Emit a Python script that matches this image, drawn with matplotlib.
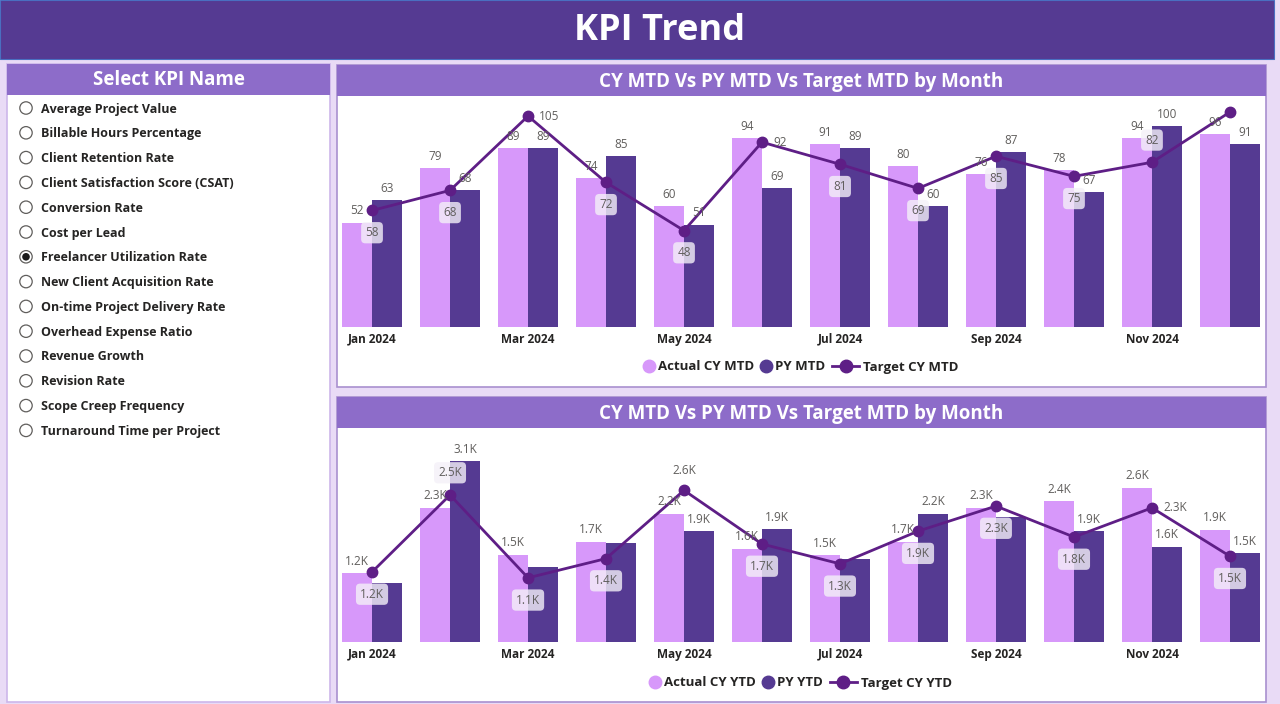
import numpy as np
import matplotlib
matplotlib.use('Agg')
import matplotlib.pyplot as plt
from matplotlib.patches import Rectangle, Circle
from matplotlib.lines import Line2D
from matplotlib.legend_handler import HandlerLine2D

plt.rcParams['font.family'] = ['Open Sans', 'DejaVu Sans']

W, H = 1280, 704

# ---------------- data ----------------
MONTHS = ['Jan 2024', 'Feb 2024', 'Mar 2024', 'Apr 2024', 'May 2024', 'Jun 2024',
          'Jul 2024', 'Aug 2024', 'Sep 2024', 'Oct 2024', 'Nov 2024', 'Dec 2024']

MTD_ACTUAL = [52, 79, 89, 74, 60, 94, 91, 80, 76, 78, 94, 96]
MTD_PY = [63, 68, 89, 85, 51, 69, 89, 60, 87, 67, 100, 91]
MTD_TARGET = [58, 68, 105, 72, 48, 92, 81, 69, 85, 75, 82, 107]

YTD_ACTUAL = [1180, 2300, 1500, 1720, 2200, 1600, 1490, 1720, 2300, 2410, 2640, 1920]
YTD_PY = [1010, 3100, 1280, 1700, 1900, 1930, 1420, 2200, 2140, 1900, 1630, 1520]
YTD_TARGET = [1200, 2520, 1100, 1430, 2600, 1680, 1340, 1900, 2330, 1800, 2300, 1470]

# where the report puts each target label (None = not shown)
MTD_TARGET_POS = ['below', 'below', 'right', 'below', 'below', 'right',
                  'below', 'below', 'below', 'below', 'above_box', None]
YTD_TARGET_POS = ['below', 'above_box', 'below', 'below', 'above', 'below',
                  'below', 'below', 'below', 'below', 'right', 'below']
# PY labels the report hides
YTD_HIDE_PY = [0, 2, 3, 6, 8]

KPI_NAMES = ['Average Project Value', 'Billable Hours Percentage', 'Client Retention Rate',
             'Client Satisfaction Score (CSAT)', 'Conversion Rate', 'Cost per Lead',
             'Freelancer Utilization Rate', 'New Client Acquisition Rate',
             'On-time Project Delivery Rate', 'Overhead Expense Ratio', 'Revenue Growth',
             'Revision Rate', 'Scope Creep Frequency', 'Turnaround Time per Project']
SELECTED_KPI = 'Freelancer Utilization Rate'

# colours
BG = '#E9DBF6'
TITLE_BG = '#553A92'
HEADER_BG = '#8D6CC9'
LIGHT = '#D798FA'
DARK = '#553A92'
LINE = '#5E1E86'
LABEL_GREY = '#605E5C'


class WideHandler(HandlerLine2D):
    """line+marker legend entry that is wider than the plain circle entries"""
    def __init__(self, factor, **kw):
        super().__init__(**kw)
        self.factor = factor

    def legend_artist(self, legend, orig_handle, fontsize, handlebox):
        handlebox.width *= self.factor
        return super().legend_artist(legend, orig_handle, fontsize, handlebox)


def px_axes(fig, x, y, w, h):
    return fig.add_axes([x / W, 1 - (y + h) / H, w / W, h / H])


def fmt_int(v):
    return f'{v:.0f}'


def fmt_k(v):
    return f'{v / 1000:.1f}K'


def draw_chart(ax, actual, prior, target, fmt, ymax, names, legend_y, target_pos, hide_py=()):
    x = np.arange(len(MONTHS))
    w = 0.385
    ax.bar(x - w / 2, actual, w, color=LIGHT, zorder=2)
    ax.bar(x + w / 2, prior, w, color=DARK, zorder=2)
    ax.plot(x, target, color=LINE, lw=2, marker='o', ms=7.5, zorder=4)

    box = dict(boxstyle='round,pad=0.35', fc='#F4F0F8', ec='none', alpha=0.8)
    lbl = dict(textcoords='offset points', fontsize=8.5, color=LABEL_GREY)
    for i in x:
        ax.annotate(fmt(actual[i]), (i - w / 2, actual[i]), xytext=(0, 4),
                    ha='center', va='bottom', zorder=5, **lbl)
        if i not in hide_py:
            ax.annotate(fmt(prior[i]), (i + w / 2, prior[i]), xytext=(0, 4),
                        ha='center', va='bottom', zorder=5, **lbl)
        pos = target_pos[i]
        if pos == 'right':
            ax.annotate(fmt(target[i]), (i, target[i]), xytext=(8, 0),
                        ha='left', va='center', zorder=6, **lbl)
        elif pos == 'above':
            ax.annotate(fmt(target[i]), (i, target[i]), xytext=(0, 14),
                        ha='center', va='center', zorder=6, **lbl)
        elif pos == 'above_box':
            ax.annotate(fmt(target[i]), (i, target[i]), xytext=(0, 16),
                        ha='center', va='center', zorder=6, bbox=box, **lbl)
        elif pos == 'below':
            ax.annotate(fmt(target[i]), (i, target[i]), xytext=(0, -16),
                        ha='center', va='center', zorder=6, bbox=box, **lbl)

    ax.set_xlim(-w, len(x) - 1 + w)
    ax.set_ylim(0, ymax)
    ax.set_xticks(x[::2])
    ax.set_xticklabels(MONTHS[::2], fontsize=8.5, fontweight='bold', color='#252423')
    ax.tick_params(axis='x', length=0, pad=4)
    ax.set_yticks([])
    for s in ax.spines.values():
        s.set_visible(False)
    ax.patch.set_alpha(0)

    h_cy = Line2D([], [], marker='o', color=LIGHT, ls='none', ms=9)
    h_py = Line2D([], [], marker='o', color=DARK, ls='none', ms=9)
    h_tg = Line2D([], [], marker='o', color=LINE, lw=2, ms=9)
    leg = ax.legend([h_cy, h_py, h_tg], names, loc='center', bbox_to_anchor=(0.5, legend_y), ncol=3,
                    frameon=False, handlelength=0.8, handletextpad=0.3, columnspacing=0.5,
                    handler_map={h_tg: WideHandler(2.6)},
                    prop={'weight': 'bold', 'size': 9.5})
    for t in leg.get_texts():
        t.set_color('#252423')


fig = plt.figure(figsize=(W / 100, H / 100), dpi=100, facecolor=BG)

bg = fig.add_axes([0, 0, 1, 1])
bg.set_xlim(0, W)
bg.set_ylim(H, 0)
bg.axis('off')

# title bar
bg.add_patch(Rectangle((0, 0), 1274, 59, fc=TITLE_BG, ec='#4A6FC0', lw=0.8))
bg.text(660, 31, 'KPI Trend', color='white', fontsize=26, fontweight='bold', ha='center', va='center')

# slicer panel
bg.add_patch(Rectangle((7, 64), 323, 638, fc='white', ec='#CDB6EA', lw=1.2))
bg.add_patch(Rectangle((7, 64), 323, 31, fc=HEADER_BG, ec='none'))
bg.text(169, 80, 'Select KPI Name', color='white', fontsize=13.5, fontweight='bold', ha='center', va='center')
for k, name in enumerate(KPI_NAMES):
    yy = 108 + k * 24.8
    bg.add_patch(Circle((26, yy), 6.2, fc='white', ec='#605E5C', lw=0.9))
    if name == SELECTED_KPI:
        bg.add_patch(Circle((26, yy), 3.8, fc='#1A1A1A', ec='none'))
    bg.text(41, yy + 1, name, fontsize=9, fontweight='bold', color='#252423', ha='left', va='center')

# chart panels
for top, bottom, title in [(65, 387, 'CY MTD Vs PY MTD Vs Target MTD by Month'),
                           (397, 702, 'CY MTD Vs PY MTD Vs Target MTD by Month')]:
    bg.add_patch(Rectangle((337, top), 929, bottom - top, fc='white', ec='#A990CF', lw=1.2))
    bg.add_patch(Rectangle((337, top), 929, 31, fc=HEADER_BG, ec='none'))
    bg.text(801, top + 16.5, title, color='white', fontsize=13.5, fontweight='bold', ha='center', va='center')

ax1 = px_axes(fig, 342, 100, 918, 227)
draw_chart(ax1, MTD_ACTUAL, MTD_PY, MTD_TARGET, fmt_int, 113,
           ['Actual CY MTD', 'PY MTD', 'Target CY MTD'], -40 / 227, MTD_TARGET_POS)

ax2 = px_axes(fig, 342, 432, 918, 210)
draw_chart(ax2, YTD_ACTUAL, YTD_PY, YTD_TARGET, fmt_k, 3600,
           ['Actual CY YTD', 'PY YTD', 'Target CY YTD'], -41 / 210, YTD_TARGET_POS, hide_py=YTD_HIDE_PY)

fig.savefig('out.png', dpi=100, facecolor=BG)
